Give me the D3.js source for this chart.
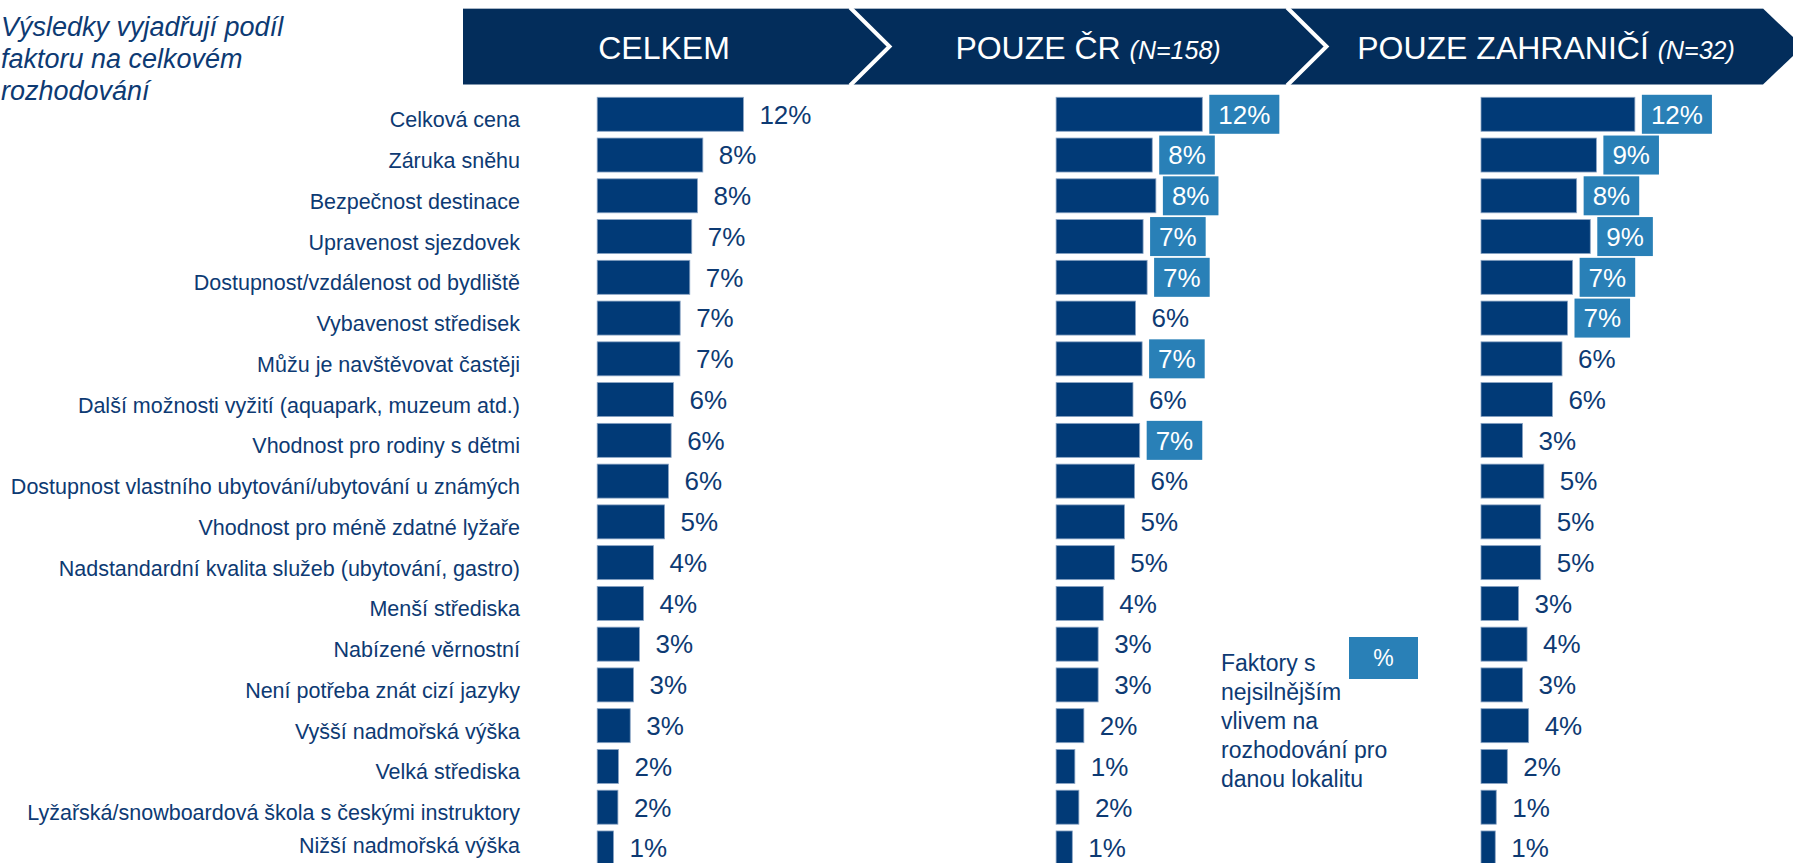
<!DOCTYPE html>
<html>
<head>
<meta charset="utf-8">
<script src="https://cdn.jsdelivr.net/npm/d3@7"></script>
<style>
  html, body { margin: 0; padding: 0; background: #ffffff; overflow: hidden; }
  svg { display: block; font-family: "Liberation Sans", Arial, sans-serif; }
</style>
</head>
<body>
<svg id="chart" width="1793" height="863"></svg>
<script>
// ---------- DATA ----------
const categories = [
  "Celková cena",
  "Záruka sněhu",
  "Bezpečnost destinace",
  "Upravenost sjezdovek",
  "Dostupnost/vzdálenost od bydliště",
  "Vybavenost středisek",
  "Můžu je navštěvovat častěji",
  "Další možnosti vyžití (aquapark, muzeum atd.)",
  "Vhodnost pro rodiny s dětmi",
  "Dostupnost vlastního ubytování/ubytování u známých",
  "Vhodnost pro méně zdatné lyžaře",
  "Nadstandardní kvalita služeb (ubytování, gastro)",
  "Menší střediska",
  "Nabízené věrnostní",
  "Není potřeba znát cizí jazyky",
  "Vyšší nadmořská výška",
  "Velká střediska",
  "Lyžařská/snowboardová škola s českými instruktory",
  "Nižší nadmořská výška"
];

const celkemValues = [12.0, 8.67, 8.23, 7.76, 7.60, 6.81, 6.79, 6.26, 6.07, 5.85, 5.53, 4.62, 3.80, 3.47, 2.98, 2.71, 1.75, 1.70, 1.34];
const celkemLabels = ["12%","8%","8%","7%","7%","7%","7%","6%","6%","6%","5%","4%","4%","3%","3%","3%","2%","2%","1%"];
const celkemHighlight = [0,0,0,0,0,0,0,0,0,0,0,0,0,0,0,0,0,0,0];

const crValues = [12.0, 7.89, 8.19, 7.14, 7.47, 6.52, 7.06, 6.31, 6.86, 6.44, 5.61, 4.78, 3.87, 3.45, 3.45, 2.28, 1.54, 1.87, 1.33];
const crLabels = ["12%","8%","8%","7%","7%","6%","7%","6%","7%","6%","5%","5%","4%","3%","3%","2%","1%","2%","1%"];
const crHighlight = [1,1,1,1,1,0,1,0,1,0,0,0,0,0,0,0,0,0,0];

const zahrValues = [12.63, 9.47, 7.85, 8.97, 7.52, 7.10, 6.65, 5.86, 3.41, 5.16, 4.90, 4.90, 3.08, 3.78, 3.41, 3.91, 2.16, 1.25, 1.17];
const zahrLabels = ["12%","9%","8%","9%","7%","7%","6%","6%","3%","5%","5%","5%","3%","4%","3%","4%","2%","1%","1%"];
const zahrHighlight = [1,1,1,1,1,1,0,0,0,0,0,0,0,0,0,0,0,0,0];

const headerTitles = ["CELKEM", "POUZE ČR ", "POUZE ZAHRANIČÍ "];
const headerNotes = ["", "(N=158)", "(N=32)"];

const introLines = ["Výsledky vyjadřují podíl", "faktoru na celkovém", "rozhodování"];
const legendLines = ["Faktory s", "nejsilnějším", "vlivem na", "rozhodování pro", "danou lokalitu"];
const legendSymbol = "%";

// ---------- STYLE / LAYOUT ----------
const BAR = "#013a77";
const HIGHLIGHT = "#2980b7";
const HEADER = "#032d5b";
const TEXT = "#0d3a73";
const FONT = '"Liberation Sans", Arial, sans-serif';

const svg = d3.select("#chart");

// ---------- HEADER BAND ----------
const bandTop = 8.5, bandBottom = 84.5, bandMid = (bandTop + bandBottom) / 2;
const bandLeft = 463, bandRight = 1763, tipDx = 40;
svg.append("path")
  .attr("d", `M${bandLeft},${bandTop} L${bandRight},${bandTop} L${bandRight + tipDx},${bandMid} L${bandRight},${bandBottom} L${bandLeft},${bandBottom} Z`)
  .attr("fill", HEADER);
svg.append("line")
  .attr("x1", bandLeft).attr("x2", bandRight).attr("y1", bandTop).attr("y2", bandTop)
  .attr("stroke", "#a8b6c6").attr("stroke-width", 1);

const chevrons = [850, 1287];
chevrons.forEach(cx => {
  svg.append("path")
    .attr("d", `M${cx},${bandTop - 1} L${cx + 39.5},${bandMid} L${cx},${bandBottom + 1}`)
    .attr("fill", "none").attr("stroke", "#ffffff").attr("stroke-width", 4);
});

const headerCenters = [664, 1088, 1546];
headerTitles.forEach((t, i) => {
  const txt = svg.append("text")
    .attr("x", headerCenters[i]).attr("y", 59)
    .attr("text-anchor", "middle")
    .attr("fill", "#ffffff")
    .style("font-family", FONT);
  txt.append("tspan").attr("font-size", 32).text(t);
  if (headerNotes[i]) {
    txt.append("tspan").attr("font-size", 25).attr("font-style", "italic").text(headerNotes[i]);
  }
});

// ---------- INTRO TEXT ----------
introLines.forEach((l, i) => {
  svg.append("text")
    .attr("x", 1).attr("y", 36 + i * 32)
    .attr("font-size", 27).attr("font-style", "italic")
    .attr("fill", TEXT)
    .style("font-family", FONT)
    .text(l);
});

// ---------- SCALES ----------
const y = d3.scaleBand()
  .domain(categories)
  .range([93.9, 93.9 + 19 * 40.76])
  .paddingInner(0.166)
  .paddingOuter(0.083);

const x = d3.scaleLinear().domain([0, 12]).range([0, 146.2]);

// ---------- CATEGORY LABELS ----------
svg.append("g").selectAll("text")
  .data(categories)
  .join("text")
  .attr("x", 520)
  .attr("y", d => Math.min(y(d) + y.bandwidth() / 2 + 13, 853))
  .attr("text-anchor", "end")
  .attr("font-size", 21.5)
  .attr("fill", TEXT)
  .style("font-family", FONT)
  .text(d => d);

// ---------- PANELS ----------
const panels = [
  { x0: 597.2, values: celkemValues, labels: celkemLabels, hl: celkemHighlight },
  { x0: 1056.1, values: crValues, labels: crLabels, hl: crHighlight },
  { x0: 1481, values: zahrValues, labels: zahrLabels, hl: zahrHighlight }
];

panels.forEach(p => {
  const g = svg.append("g").attr("transform", `translate(${p.x0},0)`);
  const rows = categories.map((c, i) => ({ c, v: p.values[i], lab: p.labels[i], hl: p.hl[i] }));

  g.selectAll("rect.bar")
    .data(rows)
    .join("rect")
    .attr("class", "bar")
    .attr("x", 0)
    .attr("y", d => y(d.c))
    .attr("width", d => x(d.v))
    .attr("height", y.bandwidth())
    .attr("fill", BAR)
    .attr("stroke", "#8aa4c4")
    .attr("stroke-width", 0.8);

  const lg = g.selectAll("g.lab")
    .data(rows)
    .join("g")
    .attr("class", "lab");

  const boxes = lg.append("rect")
    .attr("fill", d => d.hl ? HIGHLIGHT : "none");

  const texts = lg.append("text")
    .attr("x", d => x(d.v) + 16)
    .attr("y", d => y(d.c) + y.bandwidth() / 2 + 9.3)
    .attr("font-size", 26)
    .attr("fill", d => d.hl ? "#ffffff" : TEXT)
    .style("font-family", FONT)
    .text(d => d.lab);

  texts.each(function(d) {
    d.tw = this.getComputedTextLength();
  });
  boxes
    .attr("x", d => x(d.v) + 7)
    .attr("y", d => y(d.c) + y.bandwidth() / 2 - 19.5)
    .attr("width", d => d.tw + 18)
    .attr("height", 39);
});

// ---------- LEGEND ----------
legendLines.forEach((l, i) => {
  svg.append("text")
    .attr("x", 1221).attr("y", 671 + i * 29)
    .attr("font-size", 23)
    .attr("fill", TEXT)
    .style("font-family", FONT)
    .text(l);
});
svg.append("rect")
  .attr("x", 1349).attr("y", 637).attr("width", 69).attr("height", 42)
  .attr("fill", HIGHLIGHT);
svg.append("text")
  .attr("x", 1349 + 34.5).attr("y", 666)
  .attr("text-anchor", "middle")
  .attr("font-size", 23)
  .attr("fill", "#ffffff")
  .style("font-family", FONT)
  .text(legendSymbol);
</script>
</body>
</html>
